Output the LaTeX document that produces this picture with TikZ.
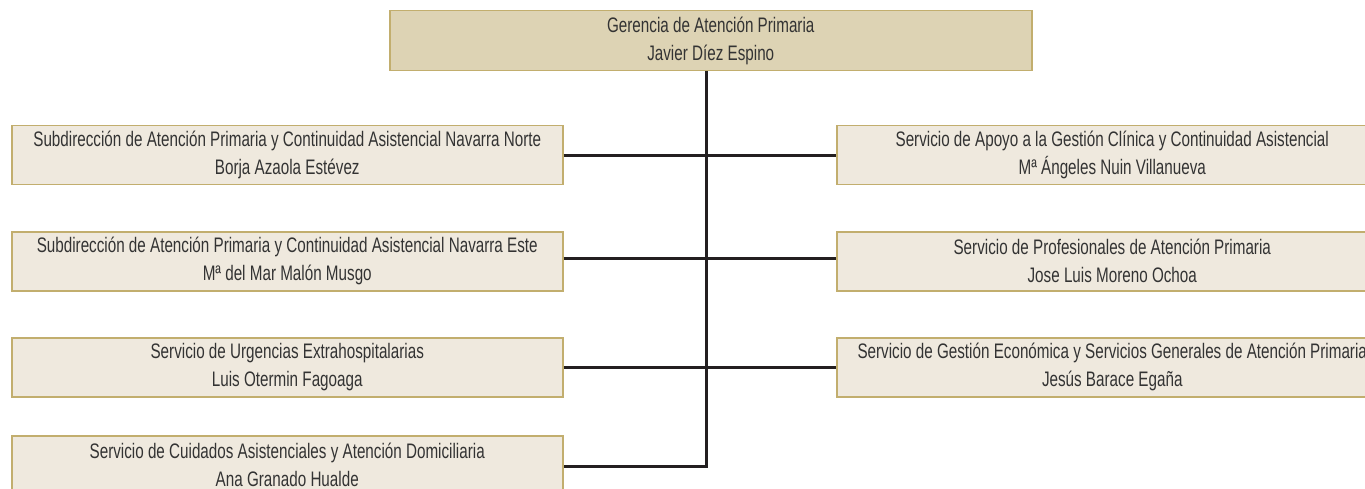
\documentclass[tikz,border=0pt]{standalone}
\usepackage{fontspec}
\setmainfont[FakeStretch=0.725]{Liberation Sans}
\definecolor{cabeza}{HTML}{DDD3B4}
\definecolor{caja}{HTML}{EFE9DE}
\definecolor{borde}{HTML}{C2AE6E}
\definecolor{texto}{HTML}{333333}
\definecolor{linea}{HTML}{231F20}
\tikzset{
  unidad/.style={draw=borde, line width=1.5pt, fill=caja, anchor=north west,
    minimum width=551pt, minimum height=59pt, inner sep=0pt, align=center,
    text=texto, font=\fontsize{21}{28}\selectfont},
  gerencia/.style={unidad, fill=cabeza, minimum width=642pt, minimum height=60pt},
  rama/.style={draw=linea, line width=3pt}
}
\begin{document}
\begin{tikzpicture}[x=1pt,y=-1pt]
\useasboundingbox (0,0) rectangle (1365,489);
\clip (0,0) rectangle (1365,489);

% gerencia
\node[gerencia] (ger) at (389,10) {Gerencia de Atención Primaria\\Javier Díez Espino};

% left column
\node[unidad] (l1) at (11,125) {Subdirección de Atención Primaria y Continuidad Asistencial Navarra Norte\\Borja Azaola Estévez};
\node[unidad] (l2) at (11,231) {Subdirección de Atención Primaria y Continuidad Asistencial Navarra Este\\Mª del Mar Malón Musgo};
\node[unidad] (l3) at (11,337) {Servicio de Urgencias Extrahospitalarias\\Luis Otermin Fagoaga};
\node[unidad] (l4) at (11,435) {Servicio de Cuidados Asistenciales y Atención Domiciliaria\\Ana Granado Hualde};

% right column
\node[unidad] (r1) at (836,125) {Servicio de Apoyo a la Gestión Clínica y Continuidad Asistencial\\Mª Ángeles Nuin Villanueva};
\node[unidad] (r2) at (836,231) {Servicio de Profesionales de Atención Primaria\\Jose Luis Moreno Ochoa};
\node[unidad] (r3) at (836,337) {Servicio de Gestión Económica y Servicios Generales de Atención Primaria\\Jesús Barace Egaña};

% trunk
\coordinate (tronco) at (706,466);
\draw[rama] (ger.south -| tronco) -- (tronco) -- (tronco -| l4.east);
\draw[rama] (l1.east) -- (r1.west);
\draw[rama] ([yshift=3pt]l2.east) -- ([yshift=3pt]r2.west);
\draw[rama] (l3.east) -- (r3.west);
\end{tikzpicture}
\end{document}
